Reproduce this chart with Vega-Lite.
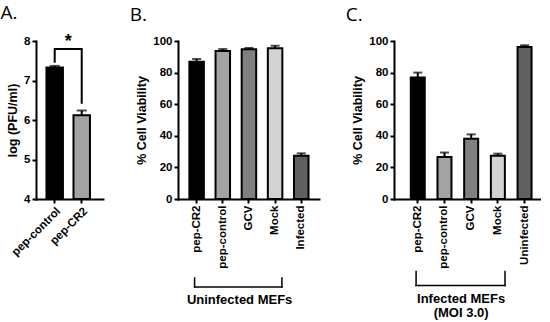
{
  "$schema": "https://vega.github.io/schema/vega-lite/v6.json",
  "background": "white",
  "padding": {"left": 0, "top": 3, "right": 0, "bottom": 0},
  "bounds": "flush",
  "spacing": 75,
  "resolve": {"scale": {"color": "independent", "x": "independent", "y": "independent"}},
  "config": {
    "view": {"stroke": null},
    "font": "Liberation Sans",
    "axis": {
      "domainColor": "black", "domainWidth": 2, "domainCap": "square",
      "tickColor": "black", "tickWidth": 2, "tickSize": 4,
      "labelColor": "black", "labelFont": "Liberation Sans", "labelFontSize": 11.5, "labelFontWeight": "bold", "labelPadding": 2, "labelOverlap": false, "labelFlush": false,
      "titleColor": "black", "titleFont": "Liberation Sans", "titleFontSize": 12.5, "titleFontWeight": "bold", "titlePadding": 4,
      "grid": false
    },
    "title": {"font": "Open Sans", "fontSize": 19, "fontWeight": "normal", "anchor": "start", "frame": "bounds", "color": "black", "dx": -6, "offset": 10}
  },
  "datasets": {
    "a": [
      {"group": "pep-control", "value": 7.33, "upper": 7.37},
      {"group": "pep-CR2", "value": 6.12, "upper": 6.24}
    ],
    "a_sig": [
      {"group": "pep-control", "y": 7.45, "order": 1},
      {"group": "pep-control", "y": 7.8, "order": 2},
      {"group": "pep-CR2", "y": 7.8, "order": 3},
      {"group": "pep-CR2", "y": 6.41, "order": 4}
    ],
    "a_star": [{"group": "pep-control", "level": 7.8, "label": "*"}],
    "b": [
      {"group": "pep-CR2", "value": 86.9, "upper": 88.6},
      {"group": "pep-control", "value": 93.7, "upper": 94.9},
      {"group": "GCV", "value": 94.7, "upper": 95.6},
      {"group": "Mock", "value": 95.4, "upper": 97.0},
      {"group": "Infected", "value": 27.4, "upper": 28.9}
    ],
    "b_brk": [{"from": "pep-CR2", "to": "Mock", "top": -50, "level": -55.7}],
    "b_txt": [{"at": "pep-control", "level": -66.5, "label": "Uninfected MEFs"}],
    "c": [
      {"group": "pep-CR2", "value": 76.9, "upper": 80.0},
      {"group": "pep-control", "value": 26.6, "upper": 29.4},
      {"group": "GCV", "value": 38.2, "upper": 40.9},
      {"group": "Mock", "value": 27.3, "upper": 28.7},
      {"group": "Uninfected", "value": 96.2, "upper": 97.3}
    ],
    "c_brk": [{"from": "pep-CR2", "to": "Mock", "top": -45.9, "level": -54.7}],
    "c_txt": [
      {"at": "pep-control", "level": -66, "label": "Infected MEFs"},
      {"at": "pep-control", "level": -74.8, "label": "(MOI 3.0)"}
    ]
  },
  "hconcat": [
    {
      "width": 67, "height": 158,
      "title": "A.",
      "layer": [
        {
          "data": {"name": "a"},
          "mark": {"type": "bar", "stroke": "black", "strokeWidth": 2},
          "encoding": {
            "x": {"field": "group", "type": "nominal", "sort": null,
                  "scale": {"domain": ["pep-control", "pep-CR2"], "paddingInner": 0.39, "paddingOuter": 0.435, "align": 0.445},
                  "axis": {"title": null, "labelAngle": -45}},
            "y": {"field": "value", "type": "quantitative",
                  "scale": {"domain": [4, 8], "zero": false, "nice": false},
                  "axis": {"title": "log (PFU/ml)", "values": [4, 5, 6, 7, 8], "tickCount": 5}},
            "y2": {"datum": 4},
            "color": {"field": "group", "type": "nominal",
                      "scale": {"domain": ["pep-control", "pep-CR2"], "range": ["#000000", "#a3a3a3"]}, "legend": null}
          }
        },
        {
          "data": {"name": "a"},
          "mark": {"type": "rule", "strokeWidth": 2, "color": "black"},
          "encoding": {
            "x": {"field": "group", "type": "nominal"},
            "y": {"field": "value", "type": "quantitative", "axis": {"title": "log (PFU/ml)", "values": [4, 5, 6, 7, 8], "tickCount": 5}},
            "y2": {"field": "upper"}
          }
        },
        {
          "data": {"name": "a"},
          "mark": {"type": "tick", "color": "black", "thickness": 2, "size": 10, "orient": "horizontal"},
          "encoding": {
            "x": {"field": "group", "type": "nominal"},
            "y": {"field": "upper", "type": "quantitative", "axis": {"title": "log (PFU/ml)", "values": [4, 5, 6, 7, 8], "tickCount": 5}}
          }
        },
        {
          "data": {"name": "a_sig"},
          "mark": {"type": "line", "color": "black", "strokeWidth": 2, "strokeJoin": "miter"},
          "encoding": {
            "x": {"field": "group", "type": "nominal"},
            "y": {"field": "y", "type": "quantitative", "axis": {"title": "log (PFU/ml)", "values": [4, 5, 6, 7, 8], "tickCount": 5}},
            "order": {"field": "order"}
          }
        },
        {
          "data": {"name": "a_star"},
          "mark": {"type": "text", "fontSize": 18, "fontWeight": "bold", "color": "black", "baseline": "alphabetic", "align": "center", "dy": -2},
          "encoding": {
            "x": {"field": "group", "type": "nominal", "bandPosition": 1.32},
            "y": {"field": "level", "type": "quantitative", "axis": {"title": "log (PFU/ml)", "values": [4, 5, 6, 7, 8], "tickCount": 5}},
            "text": {"field": "label"}
          }
        }
      ]
    },
    {
      "width": 141, "height": 158,
      "title": "B.",
      "layer": [
        {
          "data": {"name": "b"},
          "mark": {"type": "bar", "stroke": "black", "strokeWidth": 2},
          "encoding": {
            "x": {"field": "group", "type": "nominal", "sort": null,
                  "scale": {"domain": ["pep-CR2", "pep-control", "GCV", "Mock", "Infected"], "paddingInner": 0.445, "paddingOuter": 0.418, "align": 0.52},
                  "axis": {"title": null, "labelAngle": -90}},
            "y": {"field": "value", "type": "quantitative",
                  "scale": {"domain": [0, 100], "nice": false},
                  "axis": {"title": "% Cell Viability", "values": [0, 20, 40, 60, 80, 100], "tickCount": 6}},
            "color": {"field": "group", "type": "nominal",
                      "scale": {"domain": ["pep-CR2", "pep-control", "GCV", "Mock", "Infected"], "range": ["#000000", "#a3a3a3", "#808080", "#d3d3d3", "#606060"]}, "legend": null}
          }
        },
        {
          "data": {"name": "b"},
          "mark": {"type": "rule", "strokeWidth": 2, "color": "black"},
          "encoding": {
            "x": {"field": "group", "type": "nominal"},
            "y": {"field": "value", "type": "quantitative", "axis": {"title": "% Cell Viability", "values": [0, 20, 40, 60, 80, 100], "tickCount": 6}},
            "y2": {"field": "upper"}
          }
        },
        {
          "data": {"name": "b"},
          "mark": {"type": "tick", "color": "black", "thickness": 2, "size": 9, "orient": "horizontal"},
          "encoding": {
            "x": {"field": "group", "type": "nominal"},
            "y": {"field": "upper", "type": "quantitative", "axis": {"title": "% Cell Viability", "values": [0, 20, 40, 60, 80, 100], "tickCount": 6}}
          }
        },
        {
          "data": {"name": "b_brk"},
          "mark": {"type": "rule", "strokeWidth": 1.5, "color": "black", "strokeCap": "square"},
          "encoding": {
            "x": {"field": "from", "type": "nominal", "bandPosition": 0.36},
            "x2": {"field": "to", "bandPosition": 0.97},
            "y": {"field": "level", "type": "quantitative", "axis": {"title": "% Cell Viability", "values": [0, 20, 40, 60, 80, 100], "tickCount": 6}}
          }
        },
        {
          "data": {"name": "b_brk"},
          "mark": {"type": "rule", "strokeWidth": 1.5, "color": "black", "strokeCap": "square"},
          "encoding": {
            "x": {"field": "from", "type": "nominal", "bandPosition": 0.36},
            "y": {"field": "level", "type": "quantitative", "axis": {"title": "% Cell Viability", "values": [0, 20, 40, 60, 80, 100], "tickCount": 6}},
            "y2": {"field": "top"}
          }
        },
        {
          "data": {"name": "b_brk"},
          "mark": {"type": "rule", "strokeWidth": 1.5, "color": "black", "strokeCap": "square"},
          "encoding": {
            "x": {"field": "to", "type": "nominal", "bandPosition": 0.97},
            "y": {"field": "level", "type": "quantitative", "axis": {"title": "% Cell Viability", "values": [0, 20, 40, 60, 80, 100], "tickCount": 6}},
            "y2": {"field": "top"}
          }
        },
        {
          "data": {"name": "b_txt"},
          "mark": {"type": "text", "fontSize": 13, "fontWeight": "bold", "color": "black", "baseline": "alphabetic", "align": "center"},
          "encoding": {
            "x": {"field": "at", "type": "nominal", "bandPosition": 1.66},
            "y": {"field": "level", "type": "quantitative", "axis": {"title": "% Cell Viability", "values": [0, 20, 40, 60, 80, 100], "tickCount": 6}},
            "text": {"field": "label"}
          }
        }
      ]
    },
    {
      "width": 147, "height": 158,
      "title": "C.",
      "layer": [
        {
          "data": {"name": "c"},
          "mark": {"type": "bar", "stroke": "black", "strokeWidth": 2},
          "encoding": {
            "x": {"field": "group", "type": "nominal", "sort": null,
                  "scale": {"domain": ["pep-CR2", "pep-control", "GCV", "Mock", "Uninfected"], "paddingInner": 0.476, "paddingOuter": 0.491, "align": 0.64},
                  "axis": {"title": null, "labelAngle": -90}},
            "y": {"field": "value", "type": "quantitative",
                  "scale": {"domain": [0, 100], "nice": false},
                  "axis": {"title": "% Cell Viability", "values": [0, 20, 40, 60, 80, 100], "tickCount": 6}},
            "color": {"field": "group", "type": "nominal",
                      "scale": {"domain": ["pep-CR2", "pep-control", "GCV", "Mock", "Uninfected"], "range": ["#000000", "#a3a3a3", "#808080", "#d3d3d3", "#606060"]}, "legend": null}
          }
        },
        {
          "data": {"name": "c"},
          "mark": {"type": "rule", "strokeWidth": 2, "color": "black"},
          "encoding": {
            "x": {"field": "group", "type": "nominal"},
            "y": {"field": "value", "type": "quantitative", "axis": {"title": "% Cell Viability", "values": [0, 20, 40, 60, 80, 100], "tickCount": 6}},
            "y2": {"field": "upper"}
          }
        },
        {
          "data": {"name": "c"},
          "mark": {"type": "tick", "color": "black", "thickness": 2, "size": 9, "orient": "horizontal"},
          "encoding": {
            "x": {"field": "group", "type": "nominal"},
            "y": {"field": "upper", "type": "quantitative", "axis": {"title": "% Cell Viability", "values": [0, 20, 40, 60, 80, 100], "tickCount": 6}}
          }
        },
        {
          "data": {"name": "c_brk"},
          "mark": {"type": "rule", "strokeWidth": 1.5, "color": "black", "strokeCap": "square"},
          "encoding": {
            "x": {"field": "from", "type": "nominal", "bandPosition": 0.38},
            "x2": {"field": "to", "bandPosition": 1.01},
            "y": {"field": "level", "type": "quantitative", "axis": {"title": "% Cell Viability", "values": [0, 20, 40, 60, 80, 100], "tickCount": 6}}
          }
        },
        {
          "data": {"name": "c_brk"},
          "mark": {"type": "rule", "strokeWidth": 1.5, "color": "black", "strokeCap": "square"},
          "encoding": {
            "x": {"field": "from", "type": "nominal", "bandPosition": 0.38},
            "y": {"field": "level", "type": "quantitative", "axis": {"title": "% Cell Viability", "values": [0, 20, 40, 60, 80, 100], "tickCount": 6}},
            "y2": {"field": "top"}
          }
        },
        {
          "data": {"name": "c_brk"},
          "mark": {"type": "rule", "strokeWidth": 1.5, "color": "black", "strokeCap": "square"},
          "encoding": {
            "x": {"field": "to", "type": "nominal", "bandPosition": 1.01},
            "y": {"field": "level", "type": "quantitative", "axis": {"title": "% Cell Viability", "values": [0, 20, 40, 60, 80, 100], "tickCount": 6}},
            "y2": {"field": "top"}
          }
        },
        {
          "data": {"name": "c_txt"},
          "mark": {"type": "text", "fontSize": 13, "fontWeight": "bold", "color": "black", "baseline": "alphabetic", "align": "center"},
          "encoding": {
            "x": {"field": "at", "type": "nominal", "bandPosition": 1.69},
            "y": {"field": "level", "type": "quantitative", "axis": {"title": "% Cell Viability", "values": [0, 20, 40, 60, 80, 100], "tickCount": 6}},
            "text": {"field": "label"}
          }
        }
      ]
    }
  ]
}
